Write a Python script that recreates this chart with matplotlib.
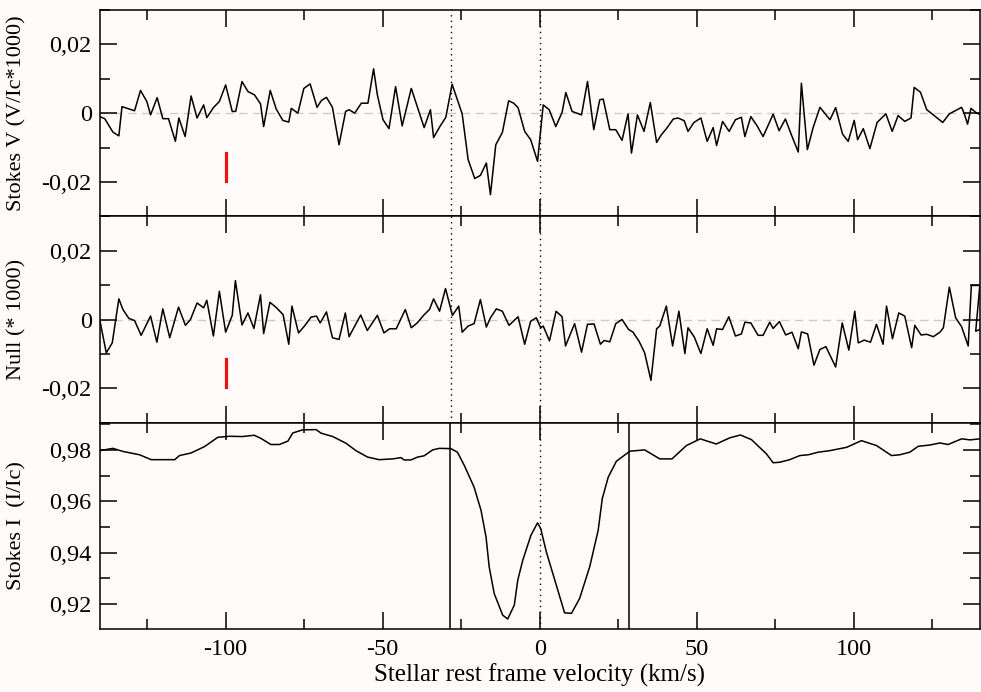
import matplotlib
matplotlib.use('Agg')
import matplotlib.pyplot as plt
from matplotlib.ticker import MultipleLocator, FuncFormatter

# ---------------- data ----------------
v_V = [-140.1, -138.5, -135.9, -134.0, -133.0, -129.0, -127.1, -125.1, -123.9, -121.8,
       -120.0, -118.2, -116.0, -114.9, -112.9, -111.0, -109.1, -107.0, -106.0, -103.9,
       -102.0, -100.0, -97.9, -96.8, -94.8, -92.9, -90.8, -88.9, -87.9, -85.8,
       -83.9, -81.8, -79.9, -79.1, -77.0, -75.1, -73.1, -70.9, -69.5, -67.9,
       -66.0, -63.9, -61.8, -60.7, -58.9, -56.8, -54.7, -52.9, -51.7, -49.9,
       -48.0, -45.9, -43.8, -40.9, -36.8, -34.8, -33.8, -31.8, -29.9, -27.9,
       -24.7, -22.8, -20.7, -18.9, -17.0, -15.7, -14.0, -11.9, -9.9, -8.3,
       -6.9, -4.8, -2.9, -0.7, 1.1, 3.0, 5.1, 7.1, 8.3, 10.3,
       13.3, 15.2, 17.2, 19.1, 20.2, 22.3, 24.2, 26.2, 28.1, 29.2,
       31.1, 33.2, 35.2, 37.2, 38.7, 40.5, 42.5, 44.0, 46.0, 47.2,
       49.1, 51.3, 53.3, 55.2, 56.3, 58.2, 60.3, 62.3, 64.2, 65.3,
       67.2, 69.2, 71.1, 74.3, 76.2, 78.2, 80.2, 82.3, 83.3, 85.2,
       87.0, 89.2, 92.4, 94.2, 96.4, 98.2, 100.1, 101.2, 103.0, 105.1,
       107.4, 110.2, 112.2, 114.1, 116.2, 118.2, 119.2, 121.2, 123.2, 125.3,
       128.3, 130.4, 134.3, 135.1, 136.2, 137.3, 139.1, 140.1]
stokes_V = [-0.0010, -0.0016, -0.0055, -0.0066, 0.0019, 0.0007, 0.0066, 0.0034, -0.0005, 0.0045,
            -0.0016, -0.0016, -0.0082, -0.0014, -0.0068, 0.0050, -0.0014, 0.0024, -0.0013, 0.0016,
            0.0034, 0.0082, 0.0005, 0.0005, 0.0092, 0.0063, 0.0053, 0.0027, -0.0039, 0.0066,
            0.0012, -0.0021, -0.0026, 0.0014, 0.0000, 0.0072, 0.0085, 0.0017, 0.0037, 0.0046,
            0.0017, -0.0092, 0.0005, 0.0010, 0.0000, 0.0029, 0.0029, 0.0129, 0.0053, -0.0019,
            -0.0045, 0.0077, -0.0037, 0.0072, -0.0042, 0.0010, -0.0071, -0.0039, -0.0012, 0.0084,
            -0.0002, -0.0135, -0.0190, -0.0181, -0.0145, -0.0237, -0.0092, -0.0056, 0.0036, 0.0029,
            0.0016, -0.0053, -0.0077, -0.0140, 0.0024, 0.0010, -0.0039, 0.0002, 0.0060, 0.0005,
            -0.0005, 0.0092, -0.0048, 0.0039, 0.0041, -0.0048, -0.0048, -0.0079, -0.0002, -0.0116,
            -0.0005, -0.0053, 0.0031, -0.0085, -0.0063, -0.0043, -0.0017, -0.0014, -0.0022, -0.0053,
            -0.0027, -0.0014, -0.0082, -0.0042, -0.0094, -0.0024, -0.0053, -0.0019, -0.0012, -0.0068,
            -0.0010, -0.0037, -0.0068, -0.0003, -0.0051, -0.0017, -0.0065, -0.0113, 0.0087, -0.0106,
            -0.0043, 0.0017, -0.0019, 0.0016, -0.0061, -0.0082, -0.0021, -0.0077, -0.0045, -0.0103,
            -0.0027, -0.0002, -0.0053, -0.0007, -0.0024, -0.0014, 0.0075, 0.0061, 0.0010, -0.0005,
            -0.0027, -0.0002, 0.0017, 0.0000, -0.0032, 0.0014, 0.0000, -0.0003]

v_N = [-140.1, -138.0, -136.1, -134.0, -132.7, -130.8, -129.0, -126.9, -123.9, -121.9,
       -120.0, -117.8, -115.0, -112.8, -111.2, -109.1, -107.0, -106.0, -103.9, -102.0,
       -100.0, -97.9, -96.9, -94.8, -92.9, -91.0, -88.9, -87.9, -85.9, -83.8,
       -81.7, -79.9, -78.9, -76.8, -74.9, -72.8, -71.1, -69.9, -67.9, -66.0,
       -63.9, -61.9, -60.7, -58.9, -57.0, -54.9, -51.7, -49.6, -47.8, -45.7,
       -42.8, -40.9, -39.0, -36.9, -35.1, -33.8, -31.9, -30.0, -27.8, -25.8,
       -24.7, -22.8, -20.9, -18.9, -17.0, -15.7, -13.8, -11.9, -9.8, -6.9,
       -4.8, -2.9, -1.1, 0.3, 1.1, 3.1, 5.2, 7.1, 8.2, 11.1,
       13.3, 15.2, 17.3, 19.3, 20.5, 22.3, 24.2, 26.2, 28.3, 29.7,
       31.6, 33.4, 35.4, 37.2, 38.2, 40.3, 42.3, 44.3, 46.2, 47.2,
       49.2, 51.3, 53.3, 55.2, 56.3, 58.2, 60.2, 62.3, 64.2, 65.3,
       67.2, 69.5, 71.1, 73.2, 74.3, 76.3, 78.3, 80.3, 82.3, 83.3,
       85.3, 87.3, 89.2, 91.1, 94.2, 96.3, 98.4, 100.3, 101.4, 103.3,
       105.3, 107.2, 109.3, 110.4, 112.3, 114.3, 116.2, 118.4, 119.4, 121.4,
       123.2, 125.3, 127.4, 128.5, 130.4, 132.4, 134.3, 136.4, 137.4, 140.1,
       138.8, 140.1]
null_N = [0.0000, -0.0097, -0.0068, 0.0060, 0.0029, 0.0003, -0.0003, -0.0046, 0.0010, -0.0066,
          0.0031, -0.0053, 0.0036, -0.0017, 0.0000, 0.0048, 0.0034, 0.0056, -0.0048, 0.0082,
          -0.0037, 0.0012, 0.0113, -0.0016, 0.0019, -0.0026, 0.0072, -0.0041, 0.0050, 0.0034,
          0.0014, -0.0072, 0.0039, -0.0039, -0.0019, 0.0007, 0.0010, -0.0010, 0.0022, -0.0053,
          -0.0058, 0.0019, -0.0050, -0.0019, 0.0013, -0.0032, 0.0012, -0.0039, -0.0027, -0.0027,
          0.0029, -0.0024, -0.0010, 0.0013, 0.0029, 0.0060, 0.0024, 0.0090, 0.0012, 0.0039,
          -0.0037, -0.0019, -0.0012, 0.0058, -0.0022, 0.0005, 0.0031, 0.0024, -0.0017, 0.0008,
          -0.0072, -0.0005, 0.0005, -0.0024, -0.0019, -0.0062, 0.0024, 0.0008, -0.0077, -0.0012,
          -0.0095, -0.0014, -0.0013, -0.0072, -0.0061, -0.0065, -0.0012, 0.0000, -0.0029, -0.0037,
          -0.0063, -0.0097, -0.0177, -0.0027, -0.0019, 0.0039, -0.0077, 0.0024, -0.0099, -0.0024,
          -0.0051, -0.0099, -0.0027, -0.0075, -0.0027, -0.0029, 0.0008, -0.0048, -0.0042, -0.0008,
          -0.0010, -0.0046, -0.0046, -0.0008, -0.0026, -0.0006, -0.0045, -0.0037, -0.0085, -0.0036,
          -0.0042, -0.0133, -0.0087, -0.0079, -0.0138, -0.0010, -0.0089, 0.0024, -0.0068, -0.0060,
          -0.0066, -0.0014, -0.0072, 0.0039, -0.0056, 0.0019, 0.0010, -0.0082, -0.0017, -0.0045,
          -0.0043, -0.0050, -0.0037, -0.0024, 0.0094, 0.0005, -0.0021, -0.0077, 0.0099, 0.0099,
          -0.0034, -0.0029]

v_I = [-140.1, -135.9, -132.7, -127.4, -123.7, -116.2, -114.7, -111.0, -106.7, -102.5,
       -98.8, -94.6, -90.9, -88.8, -85.6, -82.9, -80.2, -78.6, -75.5, -71.2,
       -69.6, -65.9, -61.7, -58.5, -54.8, -51.1, -46.8, -44.2, -43.2, -41.0,
       -38.9, -36.8, -34.1, -32.0, -28.3, -26.2, -24.0, -20.9, -18.7, -17.1,
       -16.1, -14.5, -11.8, -10.2, -8.1, -7.0, -5.4, -2.8, -0.7, 0.3,
       2.1, 4.8, 7.9, 10.1, 12.7, 15.9, 18.6, 19.9, 21.8, 24.4,
       28.7, 33.4, 38.2, 42.1, 46.7, 51.1, 56.2, 60.5, 63.9, 67.4,
       72.2, 74.3, 76.4, 79.6, 82.8, 85.5, 88.6, 92.3, 97.7, 102.4,
       107.2, 112.0, 114.6, 117.8, 120.5, 124.2, 127.4, 130.0, 134.3, 137.0,
       140.1]
stokes_I = [0.9797, 0.9806, 0.9794, 0.9781, 0.9762, 0.9762, 0.9778, 0.9788, 0.9813, 0.9849,
            0.9853, 0.9852, 0.9857, 0.9845, 0.9821, 0.9821, 0.9834, 0.9866, 0.9878, 0.9879,
            0.9865, 0.9852, 0.9826, 0.9797, 0.9772, 0.9762, 0.9765, 0.9770, 0.9761, 0.9761,
            0.9772, 0.9777, 0.9800, 0.9806, 0.9805, 0.9791, 0.9739, 0.9655, 0.9565, 0.9461,
            0.9345, 0.9241, 0.9157, 0.9142, 0.9196, 0.9293, 0.9371, 0.9468, 0.9516, 0.9494,
            0.9403, 0.9293, 0.9166, 0.9164, 0.9222, 0.9345, 0.9487, 0.9610, 0.9694, 0.9756,
            0.9795, 0.9800, 0.9765, 0.9765, 0.9817, 0.9843, 0.9823, 0.9847, 0.9858, 0.9840,
            0.9784, 0.9750, 0.9752, 0.9762, 0.9778, 0.9781, 0.9791, 0.9797, 0.9810, 0.9836,
            0.9817, 0.9778, 0.9781, 0.9791, 0.9814, 0.9819, 0.9827, 0.9821, 0.9843, 0.9839,
            0.9843]

line_limits = [-28.5, 28.5]
dotted_marks = [-28.3, 0.0]
errbar_v = -100.0
errbar_span = [-0.0115, -0.0197]

ylabels = ['Stokes V (V/Ic*1000)', 'Null (* 1000)', 'Stokes I  (I/Ic)']
xlabel = 'Stellar rest frame velocity (km/s)'

# ---------------- figure ----------------
plt.rcParams['font.family'] = ['Liberation Serif', 'DejaVu Serif']
bg = '#fffbfb'
fig = plt.figure(figsize=(9.81, 6.92), dpi=100, facecolor=bg)
left, right = 100 / 981, 979.5 / 981
top, bottom = 1 - 10 / 692, 1 - 629 / 692
h = (top - bottom) / 3
axes = [fig.add_axes([left, top - (i + 1) * h, right - left, h]) for i in range(3)]

comma = FuncFormatter(lambda x, pos: ('%g' % round(x, 4)).replace('.', ','))

for i, ax in enumerate(axes):
    ax.set_facecolor(bg)
    ax.set_xlim(-140, 140)
    ax.xaxis.set_major_locator(MultipleLocator(50))
    ax.xaxis.set_minor_locator(MultipleLocator(25))
    ax.yaxis.set_major_locator(MultipleLocator(0.02))
    ax.yaxis.set_minor_locator(MultipleLocator(0.01))
    ax.yaxis.set_major_formatter(comma)
    ax.tick_params(which='both', direction='in', top=True, right=True,
                   labelsize=17.5, width=1.1)
    ax.tick_params(axis='y', pad=6)
    ax.tick_params(axis='x', pad=7)
    ax.tick_params(which='major', length=12.5)
    ax.tick_params(which='minor', length=7)
    for s in ax.spines.values():
        s.set_linewidth(1.1)
    if i < 2:
        ax.tick_params(labelbottom=False)
    ax.set_ylabel(ylabels[i], fontsize=16, va='center')
    ax.yaxis.set_label_coords(-0.095, 0.5)

axV, axN, axI = axes
for ax, v, y in [(axV, v_V, stokes_V), (axN, v_N, null_N)]:
    ax.set_ylim(-0.03, 0.03)
    ax.axhline(0, color='#cccccc', lw=1.0, ls=(0, (6, 4)), zorder=1)
    for xm in dotted_marks:
        ax.axvline(xm, color='black', lw=1.0, ls=(0, (1, 3)), zorder=2)
    ax.plot(v, y, color='black', lw=1.1, zorder=3)
    ax.plot([errbar_v, errbar_v], errbar_span, color='#ee1111', lw=2.3, zorder=4)

axI.set_ylim(0.9103, 0.9906)
axI.axvline(0, color='black', lw=1.0, ls=(0, (1, 3)), zorder=2)
for xm in line_limits:
    axI.axvline(xm, color='black', lw=1.1, zorder=2)
axI.plot(v_I, stokes_I, color='black', lw=1.1, zorder=3)
axI.xaxis.set_major_formatter(FuncFormatter(lambda x, pos: '%d' % x))
axI.set_xlabel(xlabel, fontsize=18, labelpad=3)

fig.savefig('out.png', dpi=100, facecolor=bg)
